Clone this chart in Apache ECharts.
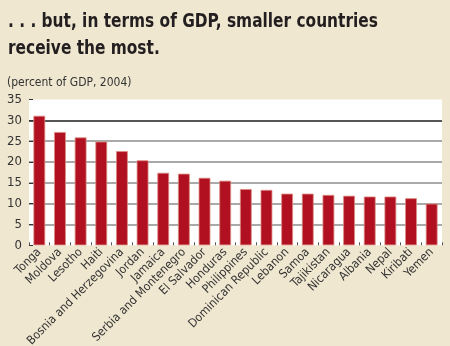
<!DOCTYPE html>
<html>
<head>
<meta charset="utf-8">
<script src="https://cdn.jsdelivr.net/npm/echarts@6/dist/echarts.min.js"></script>
<style>
  html, body { margin: 0; padding: 0; background: #f0e7d0; }
  #chart { width: 450px; height: 346px; }
</style>
</head>
<body>
<div id="chart"></div>
<script>
// Remittances as a share of GDP, 2004
const countries = [
  'Tonga', 'Moldova', 'Lesotho', 'Haiti', 'Bosnia and Herzegovina', 'Jordan',
  'Jamaica', 'Serbia and Montenegro', 'El Salvador', 'Honduras', 'Philippines',
  'Dominican Republic', 'Lebanon', 'Samoa', 'Tajikistan', 'Nicaragua',
  'Albania', 'Nepal', 'Kiribati', 'Yemen'
];
const percentOfGdp = [
  31.1, 27.2, 25.9, 24.9, 22.6, 20.4, 17.4, 17.2, 16.2, 15.5,
  13.5, 13.3, 12.4, 12.4, 12.1, 11.9, 11.7, 11.7, 11.3, 10.0
];
const yTicks = [0, 5, 10, 15, 20, 25, 30, 35];

const headline = '. . . but, in terms of GDP, smaller countries\nreceive the most.';
const unitNote = '(percent of GDP, 2004)';

const narrow = '"Liberation Sans Narrow", "DejaVu Sans Condensed", sans-serif';

const chart = echarts.init(document.getElementById('chart'), null, { renderer: 'canvas' });
chart.setOption({
  backgroundColor: '#f0e7d0',
  animation: false,
  graphic: [
    {
      type: 'text',
      x: 8,
      y: 9,
      scaleX: 0.9,
      style: {
        text: headline,
        font: 'bold 19px ' + narrow,
        lineHeight: 27,
        fill: '#231f20'
      }
    }
  ],
  title: [
    {
      text: unitNote,
      left: 7,
      top: 77,
      padding: 0,
      textStyle: {
        fontFamily: narrow,
        fontWeight: 'normal',
        fontSize: 12,
        color: '#333'
      }
    }
  ],
  grid: {
    left: 29,
    right: 8,
    top: 99.5,
    bottom: 100.7,
    outerBoundsMode: 'none',
    containLabel: false,
    show: true,
    backgroundColor: '#ffffff',
    borderWidth: 0
  },
  xAxis: {
    type: 'category',
    data: countries,
    axisLine: { show: false },
    axisTick: {
      show: true,
      inside: true,
      length: 3,
      lineStyle: { color: '#555', width: 1 }
    },
    axisLabel: {
      rotate: 45,
      interval: 0,
      margin: 5,
      fontFamily: narrow,
      fontSize: 12,
      color: '#333'
    }
  },
  yAxis: {
    type: 'value',
    min: yTicks[0],
    max: yTicks[yTicks.length - 1],
    interval: 5,
    axisLine: { show: false },
    axisTick: {
      show: true,
      inside: true,
      length: 4,
      lineStyle: { color: '#333' }
    },
    axisLabel: {
      margin: 7,
      fontFamily: narrow,
      fontSize: 13,
      color: '#333'
    },
    splitLine: {
      show: true,
      lineStyle: {
        width: 1.5,
        color: ['rgba(0,0,0,0)', '#8d8d8d', '#8d8d8d', '#8d8d8d', '#8d8d8d', '#8d8d8d', '#1e1e1e', 'rgba(0,0,0,0)']
      }
    }
  },
  series: [
    {
      type: 'bar',
      data: percentOfGdp,
      barWidth: '57%',
      itemStyle: {
        color: '#b01020',
        borderColor: '#dc8a80',
        borderWidth: 0.8
      }
    }
  ]
});
</script>
</body>
</html>
